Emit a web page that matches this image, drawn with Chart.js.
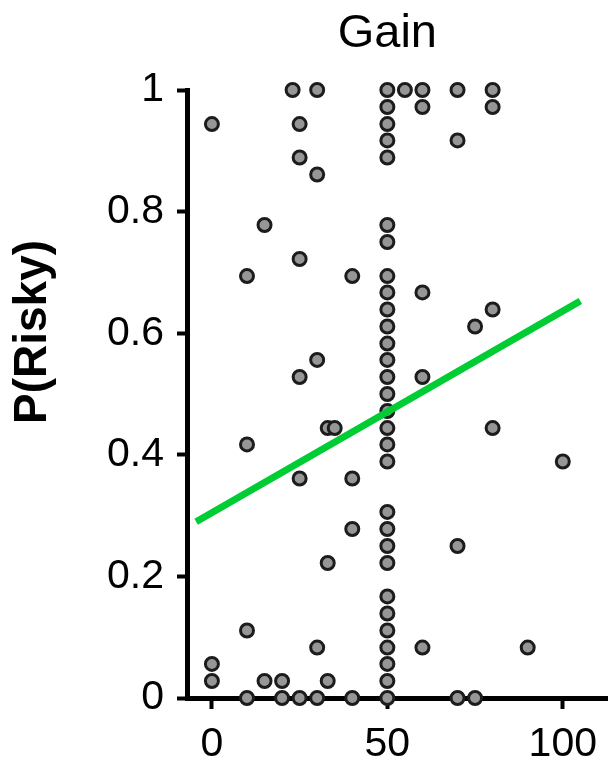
<!DOCTYPE html>
<html>
<head>
<meta charset="utf-8">
<script src="https://cdn.jsdelivr.net/npm/chart.js@4"></script>
<style>
  html, body { margin: 0; padding: 0; background: #fff; }
  #wrap { width: 608px; height: 761px; }
</style>
</head>
<body>
<div id="wrap"><canvas id="gainChart" width="608" height="761"></canvas></div>
<script>
// gain amount for each session, and the matching proportion of risky choices
const gain = [
    0, 0, 0,
    10, 10, 10, 10,
    15, 15,
    20, 20,
    23,
    25, 25, 25, 25, 25, 25,
    30, 30, 30, 30, 30,
    33, 33, 33,
    35,
    40, 40, 40, 40,
    50, 50, 50, 50, 50, 50, 50, 50, 50, 50,
    50, 50, 50, 50, 50, 50, 50, 50, 50, 50,
    50, 50, 50, 50, 50, 50, 50, 50, 50, 50,
    55,
    60, 60, 60, 60, 60,
    70, 70, 70, 70,
    75, 75,
    80, 80, 80, 80,
    90,
    100
];
const pRisky = [
    0.944, 0.056, 0.028,
    0.694, 0.417, 0.111, 0,
    0.778, 0.028,
    0.028, 0,
    1,
    0.944, 0.889, 0.722, 0.528, 0.361, 0,
    1, 0.861, 0.556, 0.083, 0,
    0.444, 0.222, 0.028,
    0.444,
    0.694, 0.361, 0.278, 0,
    1, 0.972, 0.944, 0.917, 0.889, 0.778, 0.75, 0.694, 0.667, 0.639,
    0.611, 0.583, 0.556, 0.528, 0.5, 0.472, 0.444, 0.417, 0.389, 0.306,
    0.278, 0.25, 0.222, 0.167, 0.139, 0.111, 0.083, 0.056, 0.028, 0,
    1,
    1, 0.972, 0.667, 0.528, 0.083,
    1, 0.917, 0.25, 0,
    0.611, 0,
    1, 0.972, 0.639, 0.444,
    0.083,
    0.389
];

// end points of the green fit line
const fitX = [-4.5, 105];
const fitY = [0.29, 0.653];

const xTicks = [0, 50, 100];
const yTicks = [0, 0.2, 0.4, 0.6, 0.8, 1];

const points = gain.map((g, i) => ({ x: g, y: pRisky[i] }));
const fitLine = fitX.map((x, i) => ({ x: x, y: fitY[i] }));

// title and y label are drawn by hand so they can sit off-centre like the original
const labelPlugin = {
    id: 'labels',
    afterDraw(chart) {
        const ctx = chart.ctx;
        const xScale = chart.scales.x;
        ctx.save();
        ctx.fillStyle = '#000';
        ctx.textAlign = 'center';
        ctx.textBaseline = 'alphabetic';
        ctx.font = '47px "Liberation Sans", Arial, sans-serif';
        ctx.fillText('Gain', xScale.getPixelForValue(50), 47);

        ctx.translate(33, 332);
        ctx.rotate(-Math.PI / 2);
        ctx.textBaseline = 'middle';
        ctx.font = 'bold 46px "Liberation Sans", Arial, sans-serif';
        ctx.fillText('P(Risky)', 0, 0);
        ctx.restore();
    }
};

const tickFont = { family: '"Liberation Sans", Arial, sans-serif', size: 41 };

new Chart(document.getElementById('gainChart'), {
    type: 'scatter',
    data: {
        datasets: [{
            type: 'line',
            data: fitLine,
            borderColor: 'rgb(0, 204, 51)',
            borderWidth: 7,
            pointRadius: 0,
            fill: false,
            order: 0,
            clip: false
        }, {
            data: points,
            backgroundColor: 'rgb(150, 150, 150)',
            borderColor: '#1c1c1c',
            borderWidth: 3,
            pointRadius: 6.5,
            order: 1,
            clip: false
        }]
    },
    options: {
        responsive: false,
        animation: false,
        layout: {
            autoPadding: false,
            padding: { top: 90, left: 0, right: 0, bottom: 0 }
        },
        plugins: {
            legend: { display: false },
            tooltip: { enabled: false }
        },
        scales: {
            x: {
                type: 'linear',
                min: -7.1,
                max: 112.8,
                afterBuildTicks(scale) {
                    scale.ticks = xTicks.map(v => ({ value: v }));
                },
                afterFit(scale) {
                    scale.height = 63;
                },
                grid: {
                    drawOnChartArea: false,
                    drawTicks: true,
                    tickLength: 11,
                    tickWidth: 4,
                    tickColor: '#000'
                },
                border: { display: true, color: '#000', width: 5 },
                ticks: {
                    color: '#000',
                    font: tickFont,
                    padding: 11,
                    maxRotation: 0,
                    callback: v => String(v)
                }
            },
            y: {
                type: 'linear',
                min: 0,
                max: 1,
                afterBuildTicks(scale) {
                    scale.ticks = yTicks.map(v => ({ value: v }));
                },
                afterFit(scale) {
                    scale.width = 187;
                },
                grid: {
                    drawOnChartArea: false,
                    drawTicks: true,
                    tickLength: 10,
                    tickWidth: 4,
                    tickColor: '#000'
                },
                border: { display: true, color: '#000', width: 5 },
                ticks: {
                    color: '#000',
                    font: tickFont,
                    padding: 13,
                    callback: v => String(v)
                }
            }
        }
    },
    plugins: [labelPlugin]
});
</script>
</body>
</html>
